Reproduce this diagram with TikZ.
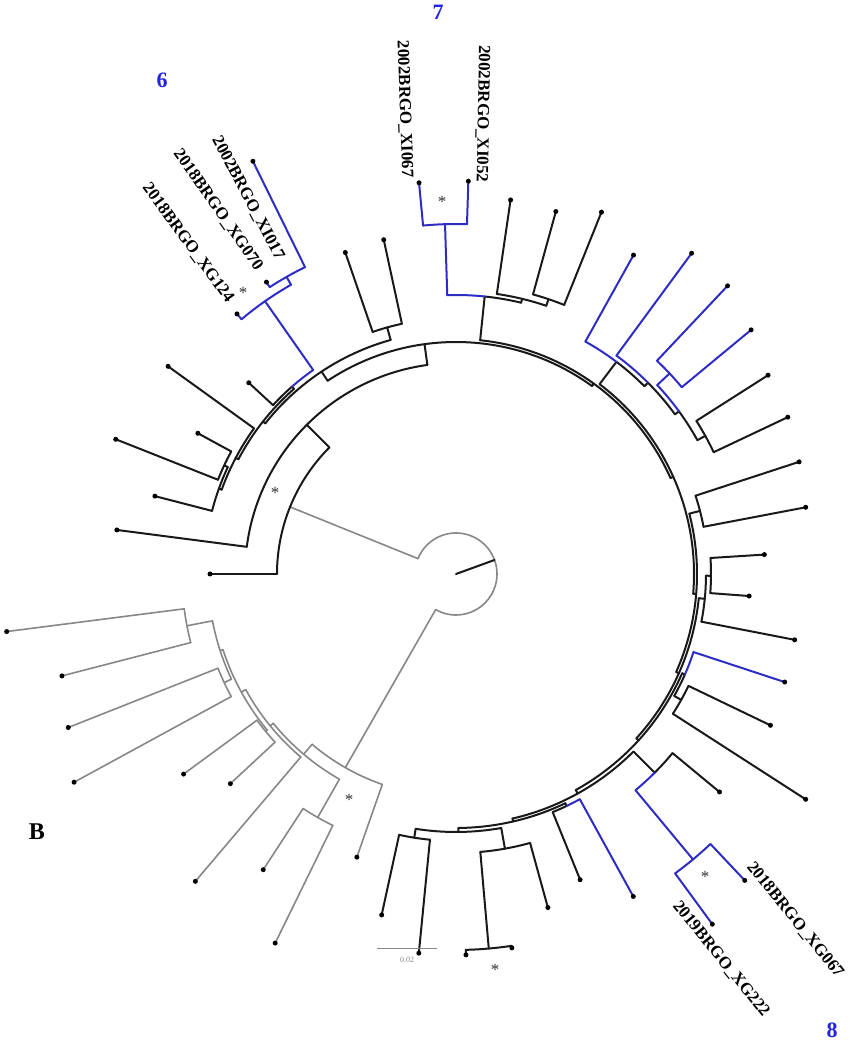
\documentclass[tikz,border=0pt]{standalone}
\usepackage{fontspec}
\setmainfont{Liberation Serif}
\definecolor{blu}{RGB}{45,45,195}
\definecolor{lblu}{RGB}{35,35,225}
\definecolor{gry}{RGB}{135,135,135}
\definecolor{blk}{RGB}{25,25,25}
\newcommand\tArc[4]{\draw[#4] (#2:#1pt) arc[start angle=#2, end angle=#3, radius=#1pt];}
\newcommand\tRad[4]{\draw[#4] (#1:#2pt) -- (#1:#3pt);}
\newcommand\tLeaf[4]{\draw[#4] (#1:#2pt) -- (#1:#3pt); \fill[black] (#1:#3pt) circle (2.5pt);}
\begin{document}
\begin{tikzpicture}[x=1pt,y=1pt,
  tk/.style={draw=blk,line width=2pt,line cap=round},
  tb/.style={draw=blu,line width=2pt,line cap=round},
  tg/.style={draw=gry,line width=1.6pt,line cap=round},
  lab/.style={font=\fontsize{17}{17}\selectfont\bfseries, inner sep=0pt},
  ast/.style={font=\fontsize{17}{17}\selectfont, text=black!80, inner sep=0pt},
  num/.style={font=\fontsize{22}{22}\selectfont\bfseries, text=lblu, inner sep=0pt}]
\useasboundingbox (0,0) rectangle (850,1043);
\begin{scope}[shift={(456,469)}]
% root
\tArc{41}{158}{-119.75}{tg}
\coordinate (c0) at (0,0);
\coordinate (c1) at (20:41pt);
\draw[tk] (c0) -- (c1);
\tRad{158}{41}{179}{tg}
\tRad{240.25}{41}{223}{tg}
% black clade
\tArc{179}{135}{180}{tk}
\tLeaf{180}{179}{246}{tk}
\tRad{135}{179}{211}{tk}
\tArc{211}{97.8}{172.6}{tk}
\tLeaf{172.6}{211}{342}{tk}
\tRad{97.8}{211}{232}{tk}
\tArc{232}{54.1}{123.6}{tk}
\tRad{123.6}{232}{243}{tk}
\tArc{243}{105.6}{141.7}{tk}
\tRad{105.6}{243}{256}{tk}
\tArc{256}{102.2}{109}{tk}
\tLeaf{109}{256}{340}{tk}
\tLeaf{102.2}{256}{342}{tk}
\tRad{141.7}{243}{246}{tk}
\tArc{246}{131.2}{152.2}{tk}
\tRad{131.2}{246}{249}{tk}
\tArc{249}{131.2}{137.3}{tk}
\tArc{249}{125}{131.2}{tb}
\tLeaf{137.3}{249}{282}{tk}
\tRad{125}{249}{333}{tb}
\tArc{333}{119.7}{130.1}{tb}
\tLeaf{130.1}{333}{340}{tb}
\tRad{119.7}{333}{342}{tb}
\tArc{342}{116.2}{123}{tb}
\tLeaf{123}{342}{348}{tb}
\tLeaf{116.2}{342}{460}{tb}
\tRad{152.2}{246}{249}{tk}
\tArc{249}{144.2}{160.2}{tk}
\tLeaf{144.2}{249}{355}{tk}
\tRad{160.2}{249}{252}{tk}
\tArc{252}{154.9}{165.5}{tk}
\tLeaf{165.5}{252}{311}{tk}
\tRad{154.9}{252}{256}{tk}
\tArc{256}{151.4}{158.4}{tk}
\tLeaf{158.4}{256}{366}{tk}
\tLeaf{151.4}{256}{294}{tk}
% right part
\tRad{54.1}{232}{235}{tk}
\tArc{235}{24.1}{84.1}{tk}
\tRad{84.1}{235}{279}{tk}
\tArc{279}{76.5}{84.1}{tk}
\tArc{279}{84.1}{91.8}{tb}
\tRad{91.8}{279}{350}{tb}
\tArc{350}{88.2}{95.4}{tb}
\tLeaf{95.4}{350}{393}{tb}
\tLeaf{88.2}{350}{393}{tb}
\tRad{76.5}{279}{283}{tk}
\tArc{283}{71.4}{81.7}{tk}
\tLeaf{81.7}{283}{378}{tk}
\tRad{71.4}{283}{290}{tk}
\tArc{290}{68.1}{74.6}{tk}
\tLeaf{74.6}{290}{376}{tk}
\tLeaf{68.1}{290}{390}{tk}
\tRad{24.1}{235}{238}{tk}
\tArc{238}{-4.75}{52.9}{tk}
\tRad{52.9}{238}{266}{tk}
\tArc{266}{44.9}{52.9}{tk}
\tArc{266}{52.9}{60.9}{tb}
\tLeaf{60.9}{266}{365}{tb}
\tRad{44.9}{266}{271}{tk}
\tArc{271}{36.1}{44.9}{tk}
\tArc{271}{44.9}{53.7}{tb}
\tLeaf{53.7}{271}{398}{tb}
\tRad{36.1}{271}{276}{tk}
\tArc{276}{29}{36.1}{tk}
\tArc{276}{36.1}{43.2}{tb}
\tRad{43.2}{276}{293}{tb}
\tArc{293}{39.6}{46.7}{tb}
\tLeaf{46.7}{293}{396}{tb}
\tLeaf{39.6}{293}{383}{tb}
\tRad{29}{276}{285}{tk}
\tArc{285}{25.3}{32.5}{tk}
\tLeaf{32.5}{285}{370}{tk}
\tLeaf{25.3}{285}{367}{tk}
\tRad{-4.75}{238}{241}{tk}
\tArc{241}{-24}{14.5}{tk}
\tRad{14.5}{241}{252}{tk}
\tArc{252}{10.8}{18.1}{tk}
\tLeaf{18.1}{252}{361}{tk}
\tLeaf{10.8}{252}{356}{tk}
\tRad{-24}{241}{244}{tk}
\tArc{244}{-42.35}{-5.7}{tk}
\tRad{-5.7}{244}{250}{tk}
\tArc{250}{-11}{-0.4}{tk}
\tLeaf{-11}{250}{345}{tk}
\tRad{-0.4}{250}{255}{tk}
\tArc{255}{-4.3}{3.6}{tk}
\tLeaf{3.6}{255}{309}{tk}
\tLeaf{-4.3}{255}{294}{tk}
\tRad{-42.35}{244}{247}{tk}
\tArc{247}{-61}{-23.7}{tk}
\tRad{-23.7}{247}{250}{tk}
\tArc{250}{-29.2}{-23.7}{tk}
\tArc{250}{-23.7}{-18.2}{tb}
\tLeaf{-18.2}{250}{346}{tb}
\tRad{-29.2}{250}{258}{tk}
\tArc{258}{-32.8}{-25.7}{tk}
\tLeaf{-25.7}{258}{349}{tk}
\tLeaf{-32.8}{258}{416}{tk}
\tRad{-61}{247}{251}{tk}
\tArc{251}{-77}{-45}{tk}
\tRad{-45}{251}{281}{tk}
\tArc{281}{-45}{-39.6}{tk}
\tArc{281}{-50.3}{-45}{tb}
\tLeaf{-39.6}{281}{342}{tk}
\tRad{-50.3}{281}{371}{tb}
\tArc{371}{-53.8}{-46.7}{tb}
\tLeaf{-46.7}{371}{421}{tb}
\tLeaf{-53.8}{371}{434}{tb}
\tRad{-77}{251}{254}{tk}
\tArc{254}{-89.45}{-64.5}{tk}
\tRad{-64.5}{254}{257}{tk}
\tArc{257}{-67.9}{-64.5}{tk}
\tArc{257}{-64.5}{-61.2}{tb}
\tLeaf{-61.2}{257}{368}{tb}
\tLeaf{-67.9}{257}{330}{tk}
\tRad{-89.45}{254}{258}{tk}
\tArc{258}{-99}{-79.9}{tk}
\tRad{-79.9}{258}{279}{tk}
\tArc{279}{-85}{-74.6}{tk}
\tLeaf{-74.6}{279}{346}{tk}
\tRad{-85}{279}{376}{tk}
\tArc{376}{-88.5}{-81.5}{tk}
\tLeaf{-81.5}{376}{378}{tk}
\tLeaf{-88.5}{376}{381}{tk}
\tRad{-99}{258}{267}{tk}
\tArc{267}{-102.3}{-95.6}{tk}
\tLeaf{-95.6}{267}{381}{tk}
\tLeaf{-102.3}{267}{349}{tk}
% gray clade
\tArc{223}{229.8}{250.7}{tg}
\tLeaf{250.7}{223}{300}{tg}
\tRad{229.8}{223}{236}{tg}
\tArc{236}{219.25}{240.4}{tg}
\tRad{240.4}{236}{280}{tg}
\tArc{280}{236.9}{243.9}{tg}
\tLeaf{236.9}{280}{353}{tg}
\tLeaf{243.9}{280}{411}{tg}
\tRad{219.25}{236}{240}{tg}
\tArc{240}{208.8}{229.7}{tg}
\tLeaf{229.7}{240}{403}{tg}
\tRad{208.8}{240}{245}{tg}
\tArc{245}{198}{219.6}{tg}
\tRad{219.6}{245}{247}{tg}
\tArc{247}{216.3}{222.9}{tg}
\tLeaf{222.9}{247}{308}{tg}
\tLeaf{216.3}{247}{338}{tg}
\tRad{198}{245}{248}{tg}
\tArc{248}{190.9}{205.1}{tg}
\tRad{205.1}{248}{256}{tg}
\tArc{256}{201.6}{208.6}{tg}
\tLeaf{208.6}{256}{435}{tg}
\tLeaf{201.6}{256}{417}{tg}
\tRad{190.9}{248}{274}{tg}
\tArc{274}{187.3}{194.5}{tg}
\tLeaf{194.5}{274}{407}{tg}
\tLeaf{187.3}{274}{453}{tg}
\end{scope}
% labels
\node[num] (n6) at (162,963) {6};
\node[num] (n7) at (438,1031) {7};
\node[num] (n8) at (832,13) {8};
\node[font=\fontsize{24}{24}\selectfont\bfseries, inner sep=0pt] (lb) at (37,211) {B};
\node[lab, rotate=-88] (l1) at (404.5,934) {2002BRGO\_XI067};
\node[lab, rotate=-91] (l2) at (482.5,929) {2002BRGO\_XI052};
\node[lab, rotate=-62] (l3) at (248,845) {2002BRGO\_XI017};
\node[lab, rotate=-55] (l4) at (218,833) {2018BRGO\_XG070};
\node[lab, rotate=-54] (l5) at (188,800) {2018BRGO\_XG124};
\node[lab, rotate=-51] (l6) at (795,123) {2018BRGO\_XG067};
\node[lab, rotate=-51] (l7) at (721,84) {2019BRGO\_XG222};
\node[ast] (s1) at (275,550) {*};
\node[ast] (s2) at (349,243) {*};
\node[ast] (s3) at (442,841) {*};
\node[ast] (s4) at (243,750) {*};
\node[ast] (s5) at (705,166) {*};
\node[ast] (s6) at (495,73) {*};
\coordinate (sb1) at (377,94);
\coordinate (sb2) at (437,94);
\draw[gry, line width=1pt] (sb1) -- (sb2);
\node[font=\fontsize{8}{8}\selectfont, text=gry, inner sep=0pt] (sbl) at (407,83) {0.02};
\end{tikzpicture}
\end{document}
